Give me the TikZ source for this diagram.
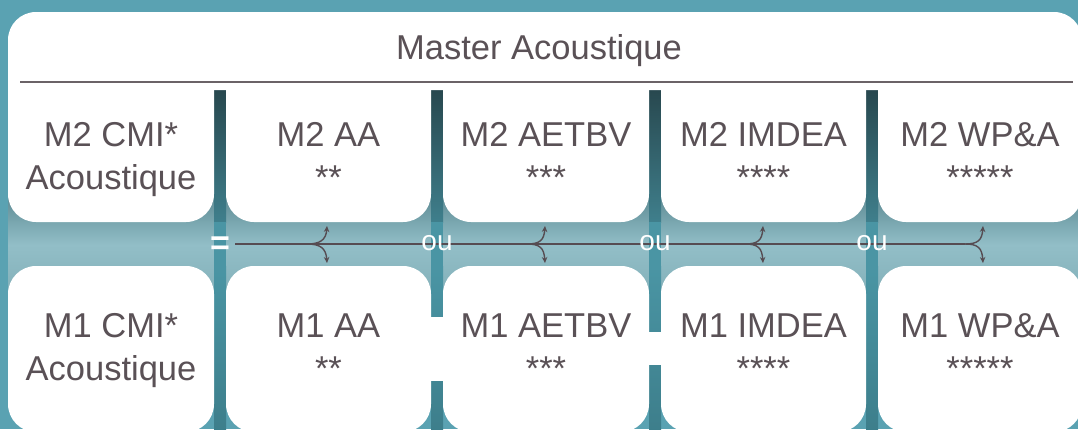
\documentclass[tikz,border=0pt]{standalone}
\usepackage{fontspec}
\setmainfont{Liberation Sans}
\usetikzlibrary{arrows.meta}
\definecolor{bgteal}{HTML}{5AA2B2}
\definecolor{banddark}{HTML}{5E8C95}
\definecolor{bandlight}{HTML}{92BEC7}
\definecolor{bandlow}{HTML}{84B1BA}
\definecolor{bardark}{HTML}{28484F}
\definecolor{barmid}{HTML}{3F7F8C}
\definecolor{barband}{HTML}{4A95A4}
\definecolor{barlow}{HTML}{3D7E8B}
\definecolor{txtc}{HTML}{5A5156}
\definecolor{rulec}{HTML}{6B6367}
\definecolor{arrc}{HTML}{564C52}
\begin{document}
\begin{tikzpicture}[x=1pt,y=-1pt,
  lbl/.style={text=txtc, font=\fontsize{34.5}{41}\selectfont, anchor=base, inner sep=0pt},
  oulbl/.style={text=white, font=\fontsize{28}{30}\selectfont, inner sep=0pt},
  flow/.style={draw=arrc, line width=1.6pt},
  fork/.style={draw=arrc, line width=1.4pt, -{Stealth[length=6pt,width=5.5pt]}},
  boxfill/.style={fill=white, rounded corners=28pt}]
\useasboundingbox (0,0) rectangle (1078,429);
\clip (0,0) rectangle (1078,429);
% background
\fill[bgteal] (0,0) rectangle (1078,429);
\shade[top color=banddark, bottom color=bandlight] (8,196) rectangle (1078,245);
\shade[top color=bandlight, bottom color=bandlow] (8,245) rectangle (1078,292);
% vertical bars
\foreach \a/\b in {214/226, 431/443, 649/661, 866/878}{
  \shade[top color=bardark, bottom color=barmid] (\a,90) rectangle (\b,222);
  \fill[barband] (\a,222) rectangle (\b,266);
  \shade[top color=barband, middle color=bardark, bottom color=barlow] (\a,266) rectangle (\b,432);
}
% white shapes
\fill[boxfill] (8,12) rectangle (1082,90);
\foreach \a/\b in {8/214, 226/431, 443/649, 661/866, 878/1082}{
  \fill[boxfill] (\a,30) rectangle (\b,222);
  \fill[boxfill] (\a,266) rectangle (\b,432);
}
\fill[white] (430,317) rectangle (444,381);
\fill[white] (648,332) rectangle (662,365);
% header rule
\draw[rulec, line width=2pt] (20,82) -- (1073,82);
% texts
\node[lbl] (title) at (539,59.5) {Master Acoustique};
\node[lbl] (m2cmi) at (111,146) {M2 CMI*};
\node[lbl] (m2cmib) at (111,189) {Acoustique};
\node[lbl] (m2aa) at (328.5,146) {M2 AA};
\node[lbl] (m2aab) at (328.5,189) {**};
\node[lbl] (m2ae) at (546,146) {M2 AETBV};
\node[lbl] (m2aeb) at (546,189) {***};
\node[lbl] (m2im) at (763.5,146) {M2 IMDEA};
\node[lbl] (m2imb) at (763.5,189) {****};
\node[lbl] (m2wp) at (980,146) {M2 WP\&A};
\node[lbl] (m2wpb) at (980,189) {*****};
\node[lbl] (m1cmi) at (111,337) {M1 CMI*};
\node[lbl] (m1cmib) at (111,380) {Acoustique};
\node[lbl] (m1aa) at (328.5,337) {M1 AA};
\node[lbl] (m1aab) at (328.5,380) {**};
\node[lbl] (m1ae) at (546,337) {M1 AETBV};
\node[lbl] (m1aeb) at (546,380) {***};
\node[lbl] (m1im) at (763.5,337) {M1 IMDEA};
\node[lbl] (m1imb) at (763.5,380) {****};
\node[lbl] (m1wp) at (980,337) {M1 WP\&A};
\node[lbl] (m1wpb) at (980,380) {*****};
% connectors
\node[text=white, font=\bfseries\fontsize{34}{34}\selectfont, inner sep=0pt] (eq) at (220,245.5) {=};
\foreach \i/\s/\e in {1/307/327, 2/527/545, 3/745/763, 4/965/983}{
  \coordinate (f\i) at (\s,244);
  \coordinate (u\i) at (\e,226);
  \coordinate (d\i) at (\e,263);
}
\draw[flow] ([xshift=5pt]eq.east |- f1) -- (f4);
\foreach \i/\s/\e in {1/307/327, 2/527/545, 3/745/763, 4/965/983}{
  \draw[fork] (f\i) .. controls (\s+13,244) and (\e-1,240) .. (u\i);
  \draw[fork] (f\i) .. controls (\s+13,244) and (\e-1,248) .. (d\i);
}
\node[oulbl] (ou1) at (437,243) {ou};
\node[oulbl] (ou2) at (655,243) {ou};
\node[oulbl] (ou3) at (872,243) {ou};
\end{tikzpicture}
\end{document}
